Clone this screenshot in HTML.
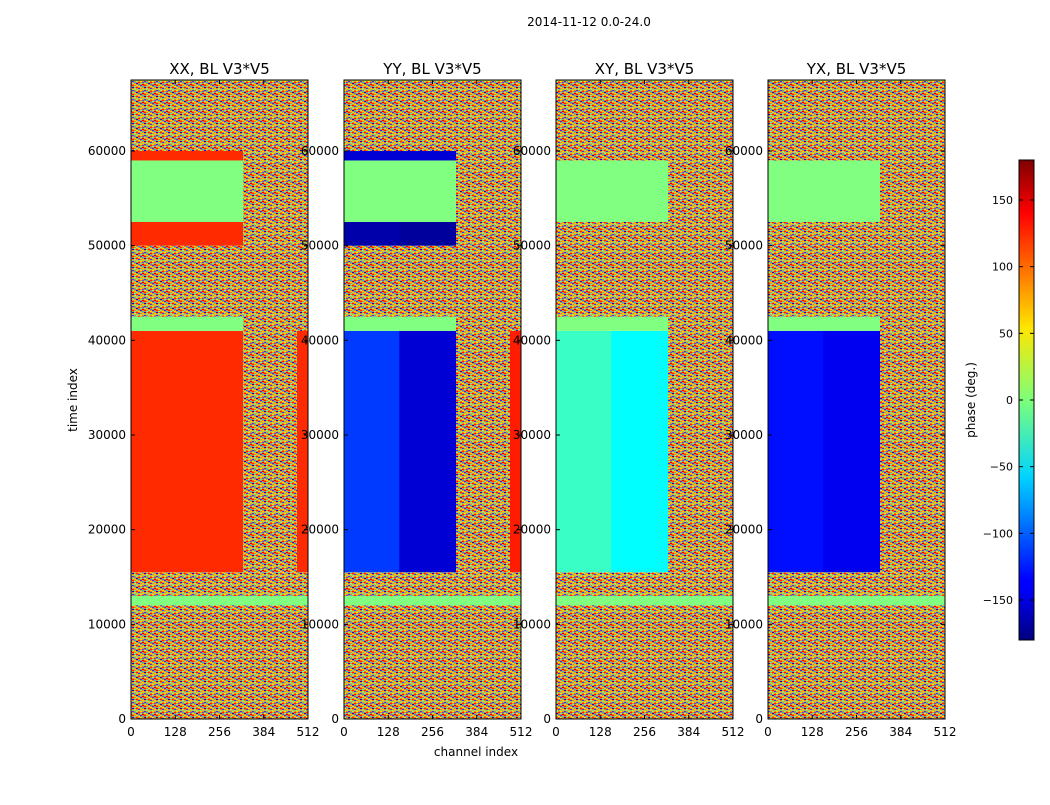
<!DOCTYPE html>
<html><head><meta charset="utf-8">
<style>
body{margin:0;background:#fff;font-family:"Liberation Sans","DejaVu Sans",sans-serif;}
svg text{font-family:"DejaVu Sans","Liberation Sans",sans-serif;}
</style></head>
<body>
<svg id="fig" width="1050" height="800" xmlns="http://www.w3.org/2000/svg">
<defs>
<pattern id="noise" width="12" height="9" patternUnits="userSpaceOnUse">
<rect width="12" height="9" fill="#ff7a1a"/>
<rect x="0" y="0" width="2" height="1" fill="#1a40ff"/><rect x="4" y="0" width="2" height="1" fill="#7dff7a"/><rect x="8" y="0" width="2" height="1" fill="#ffe500"/>
<rect x="2" y="1" width="2" height="1" fill="#00c8ff"/><rect x="6" y="1" width="2" height="1" fill="#ff2000"/><rect x="10" y="1" width="2" height="1" fill="#3060ff"/>
<rect x="0" y="2" width="2" height="1" fill="#7dff7a"/><rect x="4" y="2" width="2" height="1" fill="#0010d0"/><rect x="8" y="2" width="2" height="1" fill="#40ffc0"/>
<rect x="2" y="3" width="2" height="1" fill="#ffd000"/><rect x="6" y="3" width="2" height="1" fill="#00a0ff"/><rect x="10" y="3" width="2" height="1" fill="#d00000"/>
<rect x="0" y="4" width="2" height="1" fill="#ff2000"/><rect x="4" y="4" width="2" height="1" fill="#7dff7a"/><rect x="8" y="4" width="2" height="1" fill="#2030ff"/>
<rect x="2" y="5" width="2" height="1" fill="#40ffc0"/><rect x="6" y="5" width="2" height="1" fill="#ffe500"/><rect x="10" y="5" width="2" height="1" fill="#00c8ff"/>
<rect x="0" y="6" width="2" height="1" fill="#0010d0"/><rect x="4" y="6" width="2" height="1" fill="#ff2000"/><rect x="8" y="6" width="2" height="1" fill="#7dff7a"/>
<rect x="2" y="7" width="2" height="1" fill="#7dff7a"/><rect x="6" y="7" width="2" height="1" fill="#1a40ff"/><rect x="10" y="7" width="2" height="1" fill="#ffd000"/>
<rect x="0" y="8" width="12" height="1" fill="#7dff7a" opacity="0.6"/>
</pattern>
<linearGradient id="jet" x1="0" y1="1" x2="0" y2="0">
<stop offset="0" stop-color="#00007f"/><stop offset="0.11" stop-color="#0000ff"/><stop offset="0.125" stop-color="#0000ff"/>
<stop offset="0.34" stop-color="#00d4ff"/><stop offset="0.5" stop-color="#7dff7a"/><stop offset="0.65" stop-color="#ffe600"/>
<stop offset="0.89" stop-color="#ff0000"/><stop offset="1" stop-color="#7f0000"/>
</linearGradient>
</defs>
<text x="589" y="26" font-size="12" text-anchor="middle">2014-11-12 0.0-24.0</text>
</svg>
<script>
// ---- chart data ----
const panelTitles = ["XX, BL V3*V5","YY, BL V3*V5","XY, BL V3*V5","YX, BL V3*V5"];
const bandStarts = [0,12000,13000,15500,41000,42500,50000,52500,59000,60000];
const bandEnds   = [12000,13000,15500,41000,42500,50000,52500,59000,60000,67500];
const channelEdges = [0,160,324,480,512];
// phase (deg) per band x channel block; null = noisy
const phaseXX = [[null,null,null,null],[0,0,0,0],[null,null,null,null],[120,120,null,120],[0,0,null,null],[null,null,null,null],[120,120,null,null],[0,0,null,null],[120,120,null,null],[null,null,null,null]];
const phaseYY = [[null,null,null,null],[0,0,0,0],[null,null,null,null],[-115,-150,null,125],[0,0,null,null],[null,null,null,null],[-165,-170,null,null],[0,0,null,null],[-150,-150,null,null],[null,null,null,null]];
const phaseXY = [[null,null,null,null],[0,0,0,0],[null,null,null,null],[-25,-45,null,null],[0,0,null,null],[null,null,null,null],[null,null,null,null],[0,0,null,null],[null,null,null,null],[null,null,null,null]];
const phaseYX = [[null,null,null,null],[0,0,0,0],[null,null,null,null],[-130,-140,null,null],[0,0,null,null],[null,null,null,null],[null,null,null,null],[0,0,null,null],[null,null,null,null],[null,null,null,null]];
const panelData = [phaseXX,phaseYY,phaseXY,phaseYX];
const xTicks = [0,128,256,384,512];
const yTicks = [0,10000,20000,30000,40000,50000,60000];
const cbTicks = [-150,-100,-50,0,50,100,150];

const NS="http://www.w3.org/2000/svg";
const svg=document.getElementById('fig');
function mk(tag,attrs,parent){const e=document.createElementNS(NS,tag);for(const k in attrs)e.setAttribute(k,attrs[k]);(parent||svg).appendChild(e);return e;}
function jet(v){let t=(v+180)/360;t=Math.max(0,Math.min(1,t));
 const f=x=>Math.round(255*Math.max(0,Math.min(1,x)));
 const r=f(Math.min(4*t-1.5,-4*t+4.5)),g=f(Math.min(4*t-0.5,-4*t+3.5)),b=f(Math.min(4*t+0.5,-4*t+2.5));
 return `rgb(${r},${g},${b})`;}
const panelLefts=[131,344,556,768],pw=177,plotTop=80,plotBottom=719,ymax=67500;
function yScale(v){return plotBottom-(v/ymax)*(plotBottom-plotTop);}
panelData.forEach((data,p)=>{
 const x0=panelLefts[p];
 const xScale=c=>x0+c/512*pw;
 const g=mk('g',{});
 
 
 data.forEach((row,i)=>{row.forEach((val,j)=>{
   const r=mk('rect',{x:xScale(channelEdges[j]),y:yScale(bandEnds[i]),width:xScale(channelEdges[j+1])-xScale(channelEdges[j])+0.5,height:yScale(bandStarts[i])-yScale(bandEnds[i]),fill:val===null?'url(#noise)':jet(val)},g);
   
   
 });});
 const fr=mk('rect',{x:x0,y:plotTop,width:pw,height:plotBottom-plotTop,fill:'none',stroke:'#000','stroke-width':1},g);
 
 
 const t=mk('text',{x:x0+pw/2,y:74,'font-size':15,'text-anchor':'middle'},g);t.textContent=panelTitles[p];
 
 
 xTicks.forEach(v=>{const x=xScale(v);mk('line',{x1:x,x2:x,y1:plotBottom,y2:plotBottom-4,stroke:'#000'},g);mk('line',{x1:x,x2:x,y1:plotTop,y2:plotTop+4,stroke:'#000'},g);
  const tl=mk('text',{x:x,y:plotBottom+17,'font-size':12,'text-anchor':'middle'},g);tl.textContent=v;
  
  });
 yTicks.forEach(v=>{const y=yScale(v);mk('line',{x1:x0,x2:x0+4,y1:y,y2:y,stroke:'#000'},g);mk('line',{x1:x0+pw,x2:x0+pw-4,y1:y,y2:y,stroke:'#000'},g);
  const tl=mk('text',{x:x0-5,y:y+4,'font-size':12,'text-anchor':'end'},g);tl.textContent=v;
  
  });
});
const xl=mk('text',{x:476,y:756,'font-size':12,'text-anchor':'middle'});xl.textContent='channel index';


const yl=mk('text',{x:77,y:400,'font-size':12,'text-anchor':'middle',transform:'rotate(-90 77 400)'});yl.textContent='time index';


// colorbar
const cbTop=160,cbBot=640,cbX=1019,cbW=15;
const cbScale=v=>cbBot-(v+180)/360*(cbBot-cbTop);
const cb=mk('rect',{x:cbX,y:cbTop,width:cbW,height:cbBot-cbTop,fill:'url(#jet)',stroke:'#000'});


cbTicks.forEach(v=>{const y=cbScale(v);mk('line',{x1:cbX,x2:cbX+4,y1:y,y2:y,stroke:'#000'});mk('line',{x1:cbX+cbW,x2:cbX+cbW-4,y1:y,y2:y,stroke:'#000'});
 const tl=mk('text',{x:1013,y:y+4,'font-size':11,'text-anchor':'end'});tl.textContent=v<0?'\u2212'+(-v):v;
 
 });
const cl=mk('text',{x:975,y:400,'font-size':12,'text-anchor':'middle',transform:'rotate(-90 975 400)'});cl.textContent='phase (deg.)';


</script>
</body></html>
